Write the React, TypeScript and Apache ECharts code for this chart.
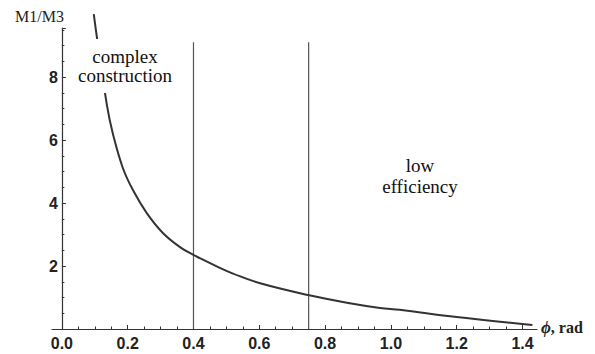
import React, { useEffect, useRef } from "react";
import * as echarts from "echarts";

const phi = [0.097, 0.106, 0.137, 0.155, 0.185, 0.216, 0.258, 0.307, 0.359, 0.4, 0.419, 0.48, 0.52, 0.6, 0.748, 0.875, 0.967, 1.027, 1.2, 1.43];
const ratio = [10.0, 9.3, 7.1, 6.2, 5.12, 4.41, 3.68, 3.05, 2.6, 2.35, 2.25, 1.94, 1.76, 1.46, 1.08, 0.82, 0.67, 0.61, 0.38, 0.13];
const boundaries = [0.4, 0.75];
const boundaryTop = 9.1;
const xLabels = [0, 0.2, 0.4, 0.6, 0.8, 1.0, 1.2, 1.4];
const xMinor = [0.05, 0.1, 0.15, 0.25, 0.3, 0.35, 0.45, 0.5, 0.55, 0.65, 0.7, 0.75, 0.85, 0.9, 0.95, 1.05, 1.1, 1.15, 1.25, 1.3, 1.35];
const yLabels = [2, 4, 6, 8];

export default function App() {
  const ref = useRef<HTMLDivElement>(null);
  useEffect(() => {
    const chart = echarts.init(ref.current!, null, { renderer: "svg" });
    const axisColor = "#333";
    const series: any[] = [
      {
        type: "line",
        data: phi.map((p, i) => [p, ratio[i]]),
        smooth: 0.4,
        showSymbol: false,
        clip: false,
        lineStyle: { color: "#333", width: 2 },
        z: 2,
      },
    ];
    boundaries.forEach((b) => {
      series.push({
        type: "line",
        data: [[b, 0], [b, boundaryTop]],
        showSymbol: false,
        lineStyle: { color: "#555", width: 1.2 },
        z: 1,
      });
    });
    chart.setOption({
      animation: false,
      grid: { left: 52, right: 58, top: 28, bottom: 25, containLabel: false },
      xAxis: [
        {
          type: "value",
          min: -0.03,
          max: 1.444,
          axisLine: { show: true, onZero: false, lineStyle: { color: axisColor, width: 1.2 } },
          axisTick: { show: true, inside: true, length: 4, customValues: xLabels, lineStyle: { color: axisColor } },
          axisLabel: {
            customValues: xLabels,
            formatter: (v: number) => v.toFixed(1),
            fontFamily: "Liberation Sans",
            fontWeight: "bold",
            fontSize: 16,
            color: "#222",
            margin: 6,
          },
          splitLine: { show: false },
        },
        {
          type: "value",
          min: -0.03,
          max: 1.444,
          position: "bottom",
          axisLine: { show: false },
          axisTick: { show: true, inside: true, length: 2.5, customValues: xMinor, lineStyle: { color: axisColor } },
          axisLabel: { show: false },
          splitLine: { show: false },
        },
      ],
      yAxis: {
        type: "value",
        min: 0,
        max: 9.556,
        interval: 2,
        offset: -9.87,
        axisLine: { show: true, onZero: false, lineStyle: { color: axisColor, width: 1.2 } },
        axisTick: { show: true, inside: true, length: 4, lineStyle: { color: axisColor } },
        minorTick: { show: true, splitNumber: 4, length: 2.5, lineStyle: { color: axisColor } },
        axisLabel: {
          customValues: yLabels,
          fontFamily: "Liberation Sans",
          fontWeight: "bold",
          fontSize: 16,
          color: "#222",
          margin: 4,
        },
        splitLine: { show: false },
      },
      graphic: [
        {
          type: "text",
          x: 15,
          y: 16,
          z: 100,
          style: {
            text: "M1/M3",
            font: "16px 'Liberation Serif'",
            fill: "#222",
            verticalAlign: "middle",
            align: "left",
          },
        },
        {
          type: "text",
          x: 125,
          y: 66,
          z: 100,
          style: {
            text: "complex\nconstruction",
            font: "19px 'Liberation Serif'",
            lineHeight: 19,
            fill: "#111",
            align: "center",
            verticalAlign: "middle",
            backgroundColor: "#fff",
            padding: [10, 2, 6, 2],
          },
        },
        {
          type: "text",
          x: 420,
          y: 176,
          z: 100,
          style: {
            text: "low\nefficiency",
            font: "19px 'Liberation Serif'",
            lineHeight: 21,
            fill: "#111",
            align: "center",
            verticalAlign: "middle",
          },
        },
        {
          type: "text",
          x: 541,
          y: 327,
          z: 100,
          style: {
            text: "{a|ϕ}{b|, rad}",
            verticalAlign: "middle",
            align: "left",
            rich: {
              a: { font: "italic bold 17px 'Liberation Serif'", fill: "#222" },
              b: { font: "bold 16px 'Liberation Serif'", fill: "#222" },
            },
          },
        },
      ],
      series,
    });
    return () => chart.dispose();
  }, []);
  return (
    <div
      ref={ref}
      style={{ position: "absolute", left: 0, top: 0, width: 595, height: 354, background: "#fff" }}
    />
  );
}
